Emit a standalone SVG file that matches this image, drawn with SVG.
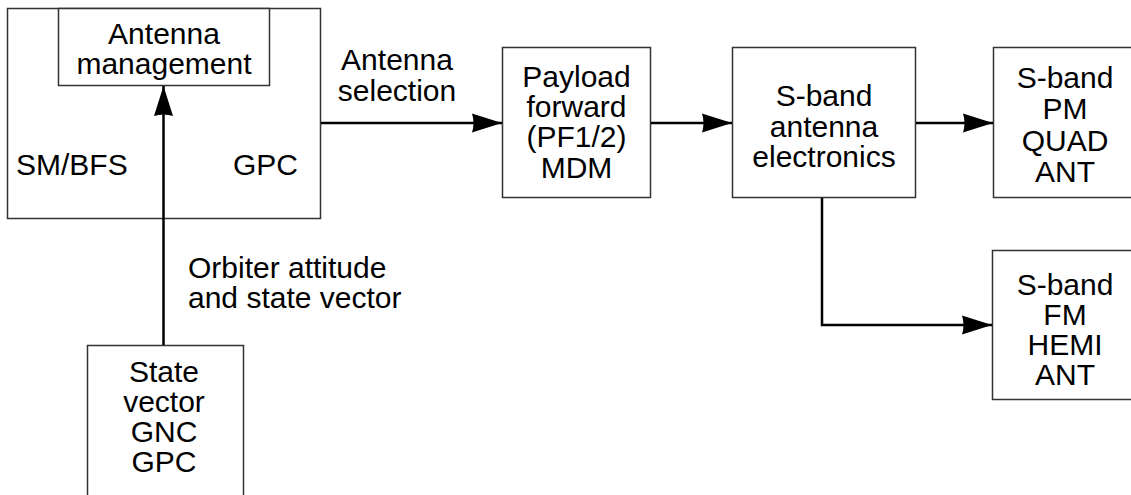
<svg xmlns="http://www.w3.org/2000/svg" width="1131" height="495" viewBox="0 0 1131 495">
<defs>
<marker id="ah" markerUnits="userSpaceOnUse" markerWidth="32" markerHeight="20" refX="30" refY="10" orient="auto">
<path d="M0,0.5 L30,10 L0,19.5 Q3,10 0,0.5 Z" fill="#000"/>
</marker>
<style>
.box{fill:#fff;stroke:#333;stroke-width:1.5}
.t{font-family:"Liberation Sans",Arial,sans-serif;font-size:30px;fill:#000;text-anchor:middle}
.l{font-family:"Liberation Sans",Arial,sans-serif;font-size:30px;fill:#000}
.c{fill:none;stroke:#000;stroke-width:2.5}
</style>
</defs>
<rect width="1131" height="495" fill="#fff"/>
<g id="gpc">
<rect class="box" x="7.5" y="8.5" width="313" height="210"/>
<text class="l" x="16" y="175">SM/BFS</text>
<text class="l" x="233" y="175">GPC</text>
</g>
<g id="antenna-management">
<rect class="box" x="58.5" y="8.5" width="211" height="77"/>
<text class="t" x="164" y="44">Antenna</text>
<text class="t" x="164" y="74">management</text>
</g>
<g id="state-vector">
<rect class="box" x="87.5" y="345.5" width="156" height="160"/>
<text class="t" x="164" y="382">State</text>
<text class="t" x="164" y="412">vector</text>
<text class="t" x="164" y="442">GNC</text>
<text class="t" x="164" y="472">GPC</text>
</g>
<g id="payload-mdm">
<rect class="box" x="502.5" y="47.5" width="148" height="150"/>
<text class="t" x="576.5" y="87">Payload</text>
<text class="t" x="576.5" y="117">forward</text>
<text class="t" x="576.5" y="147">(PF1/2)</text>
<text class="t" x="576.5" y="178">MDM</text>
</g>
<g id="sband-electronics">
<rect class="box" x="732.5" y="47.5" width="183" height="150"/>
<text class="t" x="824" y="106">S-band</text>
<text class="t" x="824" y="137">antenna</text>
<text class="t" x="824" y="167">electronics</text>
</g>
<g id="sband-quad">
<rect class="box" x="993.5" y="47.5" width="150" height="150"/>
<text class="t" x="1065" y="88">S-band</text>
<text class="t" x="1065" y="119">PM</text>
<text class="t" x="1065" y="151">QUAD</text>
<text class="t" x="1065" y="182">ANT</text>
</g>
<g id="sband-hemi">
<rect class="box" x="992.5" y="250.5" width="150" height="149"/>
<text class="t" x="1065" y="295">S-band</text>
<text class="t" x="1065" y="325">FM</text>
<text class="t" x="1065" y="355">HEMI</text>
<text class="t" x="1065" y="385">ANT</text>
</g>
<g id="connectors">
<line class="c" x1="163.5" y1="345" x2="163.5" y2="86" marker-end="url(#ah)"/>
<line class="c" x1="321" y1="123" x2="502" y2="123" marker-end="url(#ah)"/>
<line class="c" x1="651" y1="123" x2="732" y2="123" marker-end="url(#ah)"/>
<line class="c" x1="916" y1="123" x2="993" y2="123" marker-end="url(#ah)"/>
<polyline class="c" points="822,198 822,325 992,325" marker-end="url(#ah)"/>
<text class="t" x="397" y="70">Antenna</text>
<text class="t" x="397" y="101">selection</text>
<text class="l" x="188" y="278">Orbiter attitude</text>
<text class="l" x="188" y="308">and state vector</text>
</g>
</svg>
